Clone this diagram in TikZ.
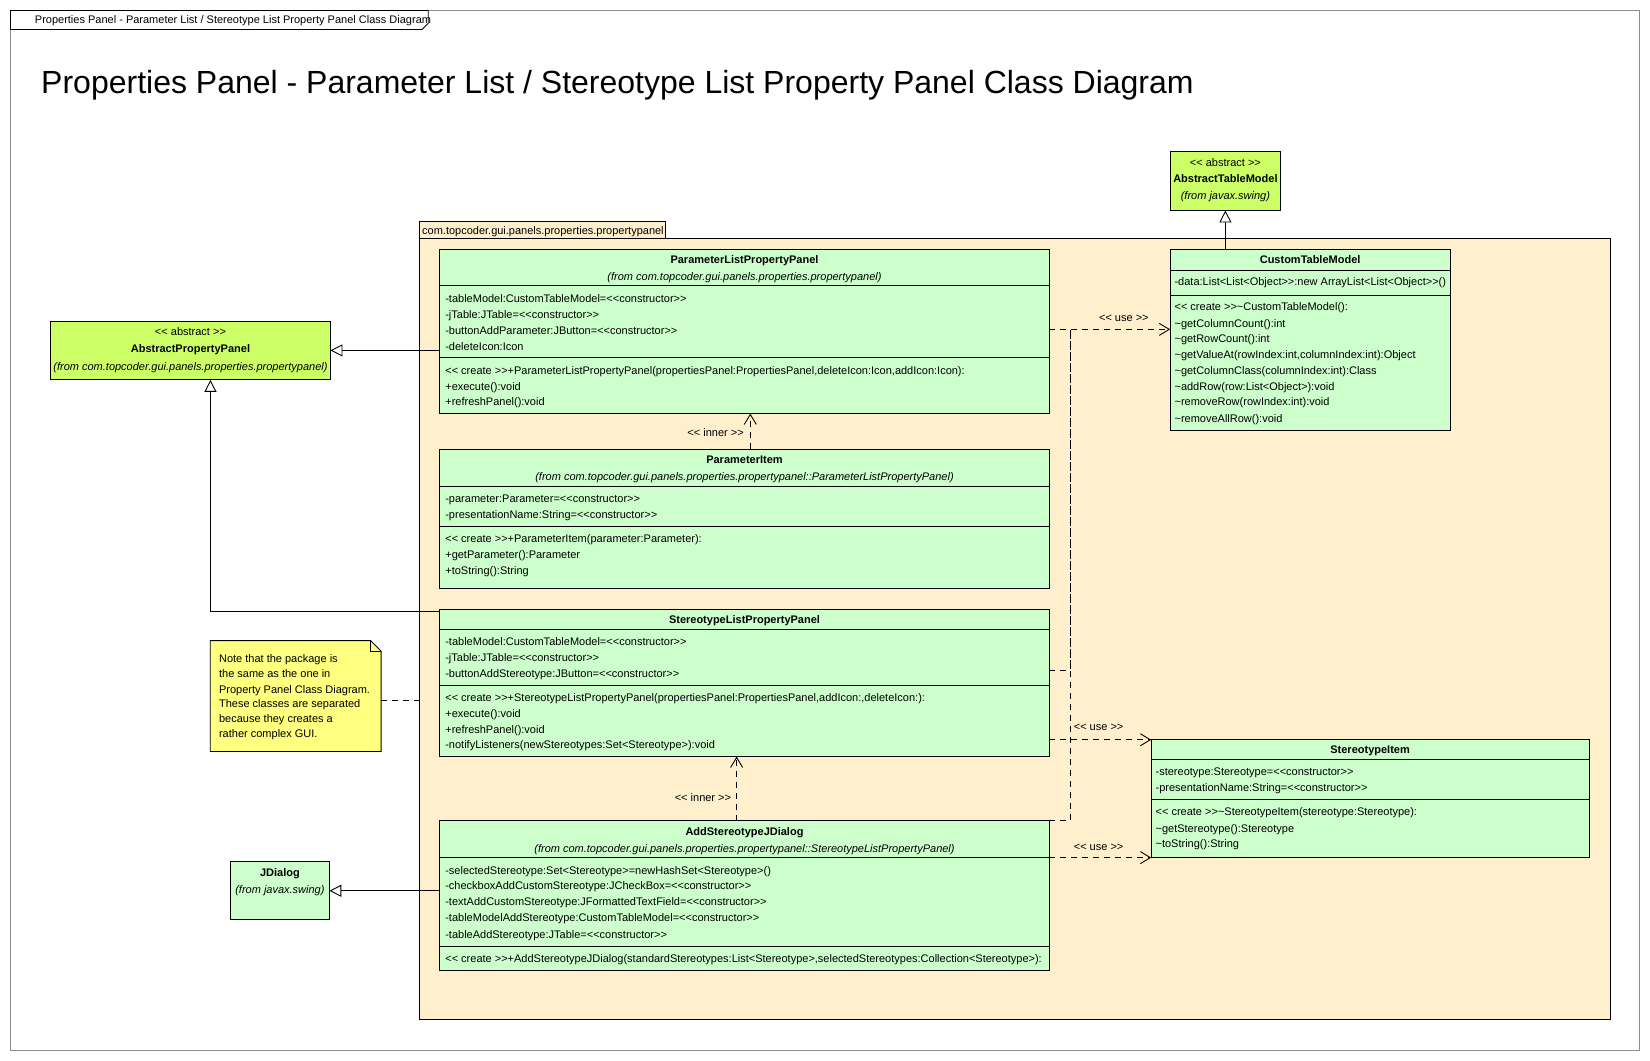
\documentclass[tikz,border=0pt]{standalone}
\usepackage{fontspec}
\setmainfont{Liberation Sans}[Ligatures=TeXOff]
\usetikzlibrary{arrows.meta,fit,calc}
\definecolor{clsg}{HTML}{CCFFCC}
\definecolor{absg}{HTML}{CCFF66}
\definecolor{pkgc}{HTML}{FFEFCC}
\definecolor{notec}{HTML}{FFFF80}
\definecolor{framec}{HTML}{8C8C8C}
\newcommand\tld{\textasciitilde}
\newcommand\sfs{\fontsize{11}{12}\selectfont}
\newcommand\crow[4]{\node[row] (#1) at (#2,#3) {#4};}
\newcommand\chd[4]{\node[hd] (#1) at (#2,#3) {#4};}
\newcommand\cfr[4]{\node[fr] (#1) at (#2,#3) {#4};}
\newcommand\cce[4]{\node[cen] (#1) at (#2,#3) {#4};}
\begin{document}
\begin{tikzpicture}[x=1.0523pt,y=-1.0523pt,
  box/.style={draw=black, line width=0.9pt, inner sep=0pt, outer sep=0pt},
  cls/.style={box, fill=clsg},
  abscls/.style={box, fill=absg},
  row/.style={anchor=west, inner sep=0pt, font=\sfs, text height=7.9pt, text depth=0pt},
  cen/.style={row, anchor=center},
  hd/.style={cen, font=\sfs\bfseries},
  fr/.style={cen, font=\sfs\itshape},
  sep/.style={line width=0.9pt},
  gen/.style={line width=0.9pt, -{Triangle[length=12pt,width=12pt,fill=white,line width=0.9pt]}},
  dl/.style={line width=0.9pt, dash pattern=on 6pt off 5pt},
  dep/.style={dl, -{Straight Barb[length=10pt,width=12pt,line width=0.9pt]}}
]
\fill[white] (0,0) rectangle (1568,1008);
\useasboundingbox (0,0) rectangle (1568,1008);

% frame
\node[fit={(10,10)(1558,998)}, draw=framec, line width=0.9pt, inner sep=0pt] (frame) {};
\draw[line width=0.9pt, fill=white] (10,10) -- (407,10) -- (407,22) -- (401,28) -- (10,28) -- cycle;
\crow{tabtext}{33}{19}{Properties Panel - Parameter List / Stereotype List Property Panel Class Diagram}
\node[anchor=west, inner sep=0pt, font=\fontsize{32}{36}\selectfont, text height=23pt, text depth=0pt] (title) at (39,78) {Properties Panel - Parameter List / Stereotype List Property Panel Class Diagram};

% package
\node[fit={(399,227)(1530,969)}, box, fill=pkgc] (pkg) {};
\node[fit={(399,210)(632,227)}, box, fill=pkgc] (pkgtab) {};
\crow{pkgname}{401}{219}{com.topcoder.gui.panels.properties.propertypanel}

% AbstractTableModel
\node[fit={(1112,144)(1217,200)}, abscls] (atm) {};
\cce{atm1}{1164.5}{154}{<< abstract >>}
\chd{atm2}{1164.5}{170}{AbstractTableModel}
\cfr{atm3}{1164.5}{186}{(from javax.swing)}

% AbstractPropertyPanel
\node[fit={(48,305)(314,361)}, abscls] (app) {};
\cce{app1}{181}{315}{<< abstract >>}
\chd{app2}{181}{331}{AbstractPropertyPanel}
\cfr{app3}{181}{348}{(from com.topcoder.gui.panels.properties.propertypanel)}

% ParameterListPropertyPanel
\node[fit={(418,237)(997,393)}, cls] (plpp) {};
\chd{plpp1}{707.5}{247}{ParameterListPropertyPanel}
\cfr{plpp2}{707.5}{263}{(from com.topcoder.gui.panels.properties.propertypanel)}
\draw[sep] (418,271) -- (997,271);
\crow{plpp3}{423}{284}{-tableModel:CustomTableModel=<<constructor>>}
\crow{plpp4}{423}{299}{-jTable:JTable=<<constructor>>}
\crow{plpp5}{423}{314}{-buttonAddParameter:JButton=<<constructor>>}
\crow{plpp6}{423}{329}{-deleteIcon:Icon}
\draw[sep] (418,340) -- (997,340);
\crow{plpp7}{423}{352}{<< create >>+ParameterListPropertyPanel(propertiesPanel:PropertiesPanel,deleteIcon:Icon,addIcon:Icon):}
\crow{plpp8}{423}{367}{+execute():void}
\crow{plpp9}{423}{382}{+refreshPanel():void}

% CustomTableModel
\node[fit={(1112,237)(1378,409)}, cls] (ctm) {};
\chd{ctm1}{1245}{247}{CustomTableModel}
\draw[sep] (1112,257) -- (1378,257);
\crow{ctm2}{1116}{268}{-data:List<List<Object>>:new ArrayList<List<Object>>()}
\draw[sep] (1112,281) -- (1378,281);
\crow{ctm3}{1116}{291}{<< create >>\tld CustomTableModel():}
\crow{ctm4}{1116}{307}{\tld getColumnCount():int}
\crow{ctm5}{1116}{322}{\tld getRowCount():int}
\crow{ctm6}{1116}{337}{\tld getValueAt(rowIndex:int,columnIndex:int):Object}
\crow{ctm7}{1116}{352}{\tld getColumnClass(columnIndex:int):Class}
\crow{ctm8}{1116}{367}{\tld addRow(row:List<Object>):void}
\crow{ctm9}{1116}{382}{\tld removeRow(rowIndex:int):void}
\crow{ctm10}{1116}{398}{\tld removeAllRow():void}

% ParameterItem
\node[fit={(418,427)(997,559)}, cls] (pi) {};
\chd{pi1}{707.5}{437}{ParameterItem}
\cfr{pi2}{707.5}{453}{(from com.topcoder.gui.panels.properties.propertypanel::ParameterListPropertyPanel)}
\draw[sep] (418,462) -- (997,462);
\crow{pi3}{423}{474}{-parameter:Parameter=<<constructor>>}
\crow{pi4}{423}{489}{-presentationName:String=<<constructor>>}
\draw[sep] (418,500) -- (997,500);
\crow{pi5}{423}{512}{<< create >>+ParameterItem(parameter:Parameter):}
\crow{pi6}{423}{527}{+getParameter():Parameter}
\crow{pi7}{423}{542}{+toString():String}

% StereotypeListPropertyPanel
\node[fit={(418,579)(997,719)}, cls] (slpp) {};
\chd{slpp1}{707.5}{589}{StereotypeListPropertyPanel}
\draw[sep] (418,598) -- (997,598);
\crow{slpp2}{423}{610}{-tableModel:CustomTableModel=<<constructor>>}
\crow{slpp3}{423}{625}{-jTable:JTable=<<constructor>>}
\crow{slpp4}{423}{640}{-buttonAddStereotype:JButton=<<constructor>>}
\draw[sep] (418,651) -- (997,651);
\crow{slpp5}{423}{663}{<< create >>+StereotypeListPropertyPanel(propertiesPanel:PropertiesPanel,addIcon:,deleteIcon:):}
\crow{slpp6}{423}{678}{+execute():void}
\crow{slpp7}{423}{693}{+refreshPanel():void}
\crow{slpp8}{423}{708}{-notifyListeners(newStereotypes:Set<Stereotype>):void}

% AddStereotypeJDialog
\node[fit={(418,780)(997,922)}, cls] (asjd) {};
\chd{asjd1}{707.5}{790}{AddStereotypeJDialog}
\cfr{asjd2}{707.5}{806}{(from com.topcoder.gui.panels.properties.propertypanel::StereotypeListPropertyPanel)}
\draw[sep] (418,815) -- (997,815);
\crow{asjd3}{423}{827}{-selectedStereotype:Set<Stereotype>=newHashSet<Stereotype>()}
\crow{asjd4}{423}{842}{-checkboxAddCustomStereotype:JCheckBox=<<constructor>>}
\crow{asjd5}{423}{857}{-textAddCustomStereotype:JFormattedTextField=<<constructor>>}
\crow{asjd6}{423}{872}{-tableModelAddStereotype:CustomTableModel=<<constructor>>}
\crow{asjd7}{423}{888}{-tableAddStereotype:JTable=<<constructor>>}
\draw[sep] (418,899) -- (997,899);
\crow{asjd8}{423}{911}{<< create >>+AddStereotypeJDialog(standardStereotypes:List<Stereotype>,selectedStereotypes:Collection<Stereotype>):}

% StereotypeItem
\node[fit={(1094,703)(1510,815)}, cls] (si) {};
\chd{si1}{1302}{712}{StereotypeItem}
\draw[sep] (1094,722) -- (1510,722);
\crow{si2}{1098}{733}{-stereotype:Stereotype=<<constructor>>}
\crow{si3}{1098}{748}{-presentationName:String=<<constructor>>}
\draw[sep] (1094,760) -- (1510,760);
\crow{si4}{1098}{771}{<< create >>\tld StereotypeItem(stereotype:Stereotype):}
\crow{si5}{1098}{787}{\tld getStereotype():Stereotype}
\crow{si6}{1098}{802}{\tld toString():String}

% JDialog
\node[fit={(219,819)(313,874)}, cls] (jd) {};
\chd{jd1}{266}{829}{JDialog}
\cfr{jd2}{266}{845}{(from javax.swing)}

% Note
\node[fit={(200,609)(362,714)}, inner sep=0pt] (note) {};
\draw[line width=0.9pt, fill=notec] (note.south west) -- (note.north west) -- ($(note.north east)+(-10,0)$) -- ($(note.north east)+(0,10)$) -- (note.south east) -- cycle;
\draw[line width=0.9pt] ($(note.north east)+(-10,0)$) -- ($(note.north east)+(-10,10)$) -- ($(note.north east)+(0,10)$);
\crow{n1}{208}{626}{Note that the package is}
\crow{n2}{208}{640}{the same as the one in}
\crow{n3}{208}{655}{Property Panel Class Diagram.}
\crow{n4}{208}{669}{These classes are separated}
\crow{n5}{208}{683}{because they creates a}
\crow{n6}{208}{697}{rather complex GUI.}
\draw[dl] ($(note.east)+(0,4.5)$) -- (pkg.west |- {$(note.east)+(0,4.5)$});

% generalizations
\draw[gen] (atm.south |- ctm.north) -- (atm.south);
\draw[gen] (plpp.west |- app.east) -- (app.east);
\draw[gen] ($(slpp.north west)+(0,2)$) -| ($(app.south)+(19,0)$);
\draw[gen] (asjd.west |- jd.east) -- (jd.east);

% inner dependencies
\draw[dep] ($(pi.north)+(5.5,0)$) -- ($(plpp.south)+(5.5,0)$);
\cce{inner1}{680}{411}{<< inner >>}
\draw[dep] ($(asjd.north)+(-7.5,0)$) -- ($(slpp.south)+(-7.5,0)$);
\cce{inner2}{668}{758}{<< inner >>}

% use dependencies
\coordinate (u1) at (1017,313);
\draw[dep] (plpp.east |- u1) -- (ctm.west |- u1);
\draw[dl] ($(slpp.east)+(0,-12)$) -| (u1);
\draw[dl] (asjd.north east) -| (u1);
\cce{use1}{1068}{302}{<< use >>}
\draw[dep] (slpp.east |- si.north west) -- (si.north west);
\cce{use2}{1044}{690}{<< use >>}
\draw[dep] (asjd.east |- si.south west) -- (si.south west);
\cce{use3}{1044}{804}{<< use >>}
\end{tikzpicture}
\end{document}
